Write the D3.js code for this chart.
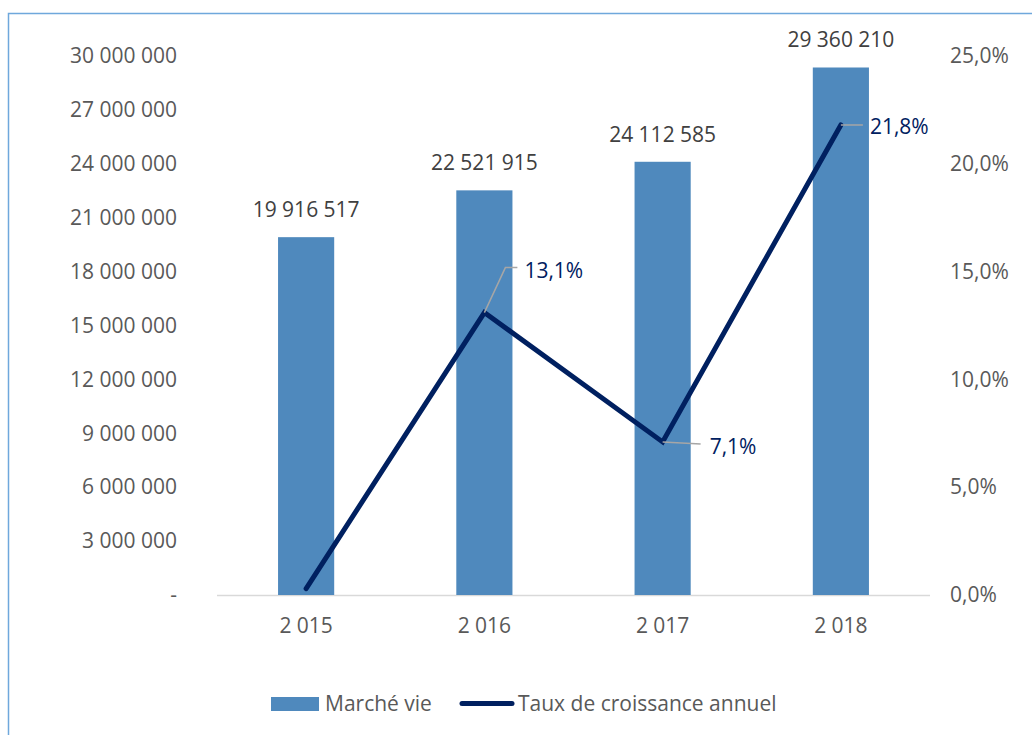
<!DOCTYPE html>
<html><head><meta charset="utf-8">
<script src="https://cdn.jsdelivr.net/npm/d3@7"></script>
<style>body{margin:0;background:#fff;} svg{display:block;}</style>
</head><body>
<svg id="c" width="1032" height="735"></svg>
<script>
const categories = ["2 015", "2 016", "2 017", "2 018"];
const marcheVie = [19916517, 22521915, 24112585, 29360210];
const tauxCroissance = [0.003, 0.131, 0.071, 0.218];
const leftTicks = [0, 3000000, 6000000, 9000000, 12000000, 15000000, 18000000, 21000000, 24000000, 27000000, 30000000];
const rightTicks = [0, 0.05, 0.10, 0.15, 0.20, 0.25];
const seriesNames = ["Marché vie", "Taux de croissance annuel"];

const FONT = "'Open Sans', 'Liberation Sans', sans-serif";
const FS = 21;
const svg = d3.select("#c");
const W = 1032, H = 735;
const m = {left: 217, right: 1032 - 930, top: 56, bottom: 735 - 595};

svg.append("rect").attr("x", 8.5).attr("y", 13.5).attr("width", 1100).attr("height", 800)
  .attr("fill", "none").attr("stroke", "#6fa8dc").attr("stroke-width", 1.5);

const x = d3.scaleBand().domain(categories).range([m.left, W - m.right]).paddingInner(0.685).paddingOuter(0.3425);
const yL = d3.scaleLinear().domain([0, 30000000]).range([H - m.bottom, m.top]);
const yR = d3.scaleLinear().domain([0, 0.25]).range([H - m.bottom, m.top]);

const fmtNum = v => v === 0 ? "-" : d3.format(",")(v).replace(/,/g, " ");
const fmtPct = v => d3.format(".1f")(v * 100).replace(".", ",") + "%";

// left axis
const gL = svg.append("g").attr("transform", `translate(${m.left},0)`)
  .call(d3.axisLeft(yL).tickValues(leftTicks).tickFormat(fmtNum).tickSize(0).tickPadding(40));
gL.select(".domain").remove();
gL.selectAll("text").attr("font-family", FONT).attr("font-size", FS).attr("fill", "#595959");

// right axis
const gR = svg.append("g").attr("transform", `translate(${W - m.right},0)`)
  .call(d3.axisRight(yR).tickValues(rightTicks).tickFormat(fmtPct).tickSize(0).tickPadding(20));
gR.select(".domain").remove();
gR.selectAll("text").attr("font-family", FONT).attr("font-size", FS).attr("fill", "#595959");

// baseline
svg.append("line").attr("x1", m.left).attr("x2", W - m.right)
  .attr("y1", yL(0) + 0.5).attr("y2", yL(0) + 0.5).attr("stroke", "#d9d9d9").attr("stroke-width", 1.5);

// x axis
const gX = svg.append("g").attr("transform", `translate(0,${H - m.bottom})`)
  .call(d3.axisBottom(x).tickSize(0).tickPadding(23));
gX.select(".domain").remove();
gX.selectAll("text").attr("font-family", FONT).attr("font-size", FS).attr("fill", "#595959");

// bars
svg.append("g").selectAll("rect").data(marcheVie).join("rect")
  .attr("x", (d, i) => x(categories[i]))
  .attr("width", x.bandwidth())
  .attr("y", d => yL(d))
  .attr("height", d => yL(0) - yL(d))
  .attr("fill", "#4f89bd");

svg.append("g").selectAll("text").data(marcheVie).join("text")
  .attr("x", (d, i) => x(categories[i]) + x.bandwidth() / 2)
  .attr("y", d => yL(d) - 20)
  .attr("text-anchor", "middle")
  .attr("font-family", FONT).attr("font-size", FS).attr("fill", "#404040")
  .text(fmtNum);

// line
const cx = i => x(categories[i]) + x.bandwidth() / 2;
const line = d3.line().x((d, i) => cx(i)).y(d => yR(d));
svg.append("path").datum(tauxCroissance).attr("d", line)
  .attr("fill", "none").attr("stroke", "#002060").attr("stroke-width", 5)
  .attr("stroke-linecap", "round").attr("stroke-linejoin", "miter");

// line labels with leader lines
const labelOff = [null, {dx: 21, dy: -45, tx: 40, ty: 3}, {dx: 38, dy: 2, tx: 47, ty: 3}, {dx: 22, dy: 0, tx: 29, ty: 2}];
const lg = svg.append("g");
tauxCroissance.forEach((v, i) => {
  const o = labelOff[i];
  if (!o) return;
  const px = cx(i), py = yR(v);
  let pts;
  if (i === 1) pts = [[px, py], [px + o.dx, py + o.dy], [px + o.dx + 12, py + o.dy]];
  else pts = [[px, py], [px + o.dx, py + o.dy]];
  lg.append("path").attr("d", d3.line()(pts)).attr("fill", "none")
    .attr("stroke", "#a6a6a6").attr("stroke-width", 1.5);
  lg.append("text").attr("x", px + o.tx).attr("y", py + o.dy + o.ty).attr("dy", "0.35em")
    .attr("font-family", FONT).attr("font-size", FS).attr("fill", "#002060")
    .text(fmtPct(v));
});

// legend
const leg = svg.append("g");
leg.append("rect").attr("x", 271).attr("y", 697).attr("width", 48).attr("height", 14).attr("fill", "#4f89bd");
leg.append("text").attr("x", 325).attr("y", 704).attr("dy", "0.35em")
  .attr("font-family", FONT).attr("font-size", FS).attr("fill", "#595959").text(seriesNames[0]);
leg.append("line").attr("x1", 462).attr("x2", 512).attr("y1", 703.5).attr("y2", 703.5)
  .attr("stroke", "#002060").attr("stroke-width", 5).attr("stroke-linecap", "round");
leg.append("text").attr("x", 518).attr("y", 704).attr("dy", "0.35em")
  .attr("font-family", FONT).attr("font-size", FS).attr("fill", "#595959").text(seriesNames[1]);
</script>
</body></html>
